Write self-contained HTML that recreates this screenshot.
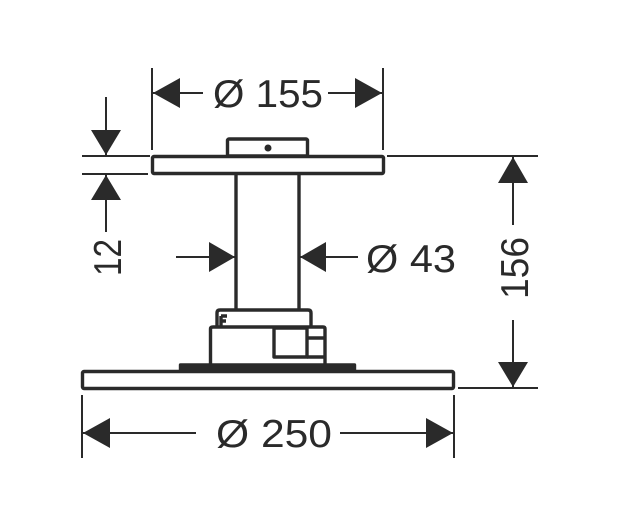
<!DOCTYPE html>
<html><head><meta charset="utf-8"><style>
html,body{margin:0;padding:0;background:#fff;}
svg{display:block;}
text{font-family:"Liberation Sans",sans-serif;fill:#2a2a2a;}
</style></head><body>
<svg width="619" height="528" viewBox="0 0 619 528" xmlns="http://www.w3.org/2000/svg">
<g fill="none" stroke="#2a2a2a" stroke-width="3.4" stroke-linejoin="round">
  <rect x="227.5" y="139" width="80" height="17" rx="1.5"/>
  <rect x="152.5" y="156.5" width="231" height="17" rx="1.5"/>
  <line x1="236" y1="174" x2="236" y2="310"/>
  <line x1="299" y1="174" x2="299" y2="310"/>
  <path d="M217,327 L217,313 Q217,310 220,310 L308,310 Q311,310 311,313 L311,327"/>
  <path d="M221,316 L221,326 M221,316 L227,316 M221,321 L226,321"/>
  <path d="M210.5,364 L210.5,329 Q210.5,327 213,327 L323,327 Q325,327 325,329 L325,364"/>
  <rect x="274" y="328" width="33" height="29"/>
  <line x1="307" y1="338" x2="325" y2="338"/>
  <line x1="307" y1="357" x2="325" y2="357"/>
  <rect x="180.5" y="365" width="174" height="6" fill="#2a2a2a"/>
  <rect x="82.5" y="371.5" width="371" height="17" rx="1.5"/>
</g>
<circle cx="268" cy="148" r="3.5" fill="#2a2a2a"/>

<g stroke="#2a2a2a" stroke-width="2" fill="none">
  <line x1="152" y1="68" x2="152" y2="150"/>
  <line x1="383" y1="68" x2="383" y2="150"/>
  <line x1="152" y1="93" x2="203" y2="93"/>
  <line x1="328" y1="93" x2="383" y2="93"/>
  <line x1="106" y1="97" x2="106" y2="156"/>
  <line x1="106" y1="174" x2="106" y2="232"/>
  <line x1="82" y1="156" x2="150" y2="156"/>
  <line x1="82" y1="174" x2="148" y2="174"/>
  <line x1="176" y1="257" x2="236" y2="257"/>
  <line x1="299" y1="257" x2="358" y2="257"/>
  <line x1="387" y1="156" x2="538" y2="156"/>
  <line x1="458" y1="388" x2="538" y2="388"/>
  <line x1="513" y1="156" x2="513" y2="225"/>
  <line x1="513" y1="320" x2="513" y2="388"/>
  <line x1="82" y1="395" x2="82" y2="458"/>
  <line x1="454" y1="395" x2="454" y2="458"/>
  <line x1="82" y1="433" x2="196" y2="433"/>
  <line x1="340" y1="433" x2="454" y2="433"/>
</g>

<g fill="#2a2a2a">
  <polygon points="153,93 180,78 180,108"/>
  <polygon points="382,93 355,78 355,108"/>
  <polygon points="106,155 91,130 121,130"/>
  <polygon points="106,175 91,200 121,200"/>
  <polygon points="235,257 209,242 209,272"/>
  <polygon points="300,257 326,242 326,272"/>
  <polygon points="513,157 498,183 528,183"/>
  <polygon points="513,387 498,362 528,362"/>
  <polygon points="83,433 110,418 110,448"/>
  <polygon points="453,433 426,418 426,448"/>
</g>

<g font-size="39">
  <text x="213" y="107" textLength="110" lengthAdjust="spacingAndGlyphs">Ø 155</text>
  <text x="366" y="272" textLength="90" lengthAdjust="spacingAndGlyphs">Ø 43</text>
  <text x="216" y="447" textLength="116" lengthAdjust="spacingAndGlyphs">Ø 250</text>
  <text transform="translate(121,276) rotate(-90)" textLength="37" lengthAdjust="spacingAndGlyphs">12</text>
  <text transform="translate(528,299) rotate(-90)" textLength="62" lengthAdjust="spacingAndGlyphs">156</text>
</g>
</svg>
</body></html>
